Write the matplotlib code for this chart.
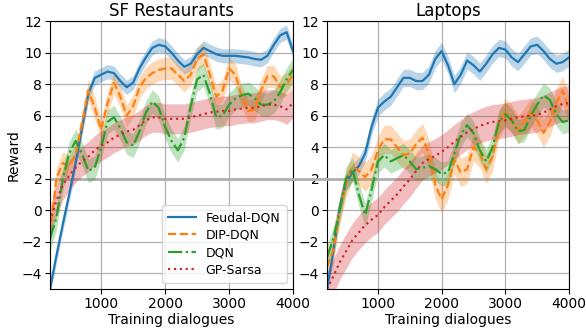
import numpy as np
import matplotlib
matplotlib.use("Agg")
import matplotlib.pyplot as plt
from matplotlib.lines import Line2D

# training dialogues, sampled every 100
steps = np.arange(200, 4001, 100)

# SF Restaurants
sf_feudal = [-5.0, -2.9, -0.9, 1.0, 3.0, 5.2, 7.4, 8.4, 8.6, 8.8, 8.7, 8.2, 7.8, 8.1, 9.0, 9.7,
             10.3, 10.5, 10.4, 10.0, 9.5, 9.1, 9.3, 9.9, 10.3, 10.1, 9.9, 9.8, 9.8, 9.8, 9.75,
             9.7, 9.6, 9.55, 9.8, 10.5, 11.1, 11.3, 10.1]
sf_dip = [-1.5, 2.0, 3.0, 2.8, 3.5, 5.5, 7.6, 6.5, 5.1, 6.8, 8.1, 7.2, 6.0, 6.6, 7.8, 8.4,
          8.7, 8.9, 9.0, 9.0, 8.6, 8.2, 8.6, 9.6, 9.9, 8.6, 7.2, 7.6, 9.0, 8.6, 7.2,
          6.3, 6.4, 7.6, 8.5, 8.5, 7.8, 8.0, 8.6]
sf_dqn = [-1.8, -0.5, 2.0, 3.6, 4.4, 3.6, 2.5, 2.7, 4.0, 5.6, 5.9, 5.2, 4.3, 4.1, 5.0, 6.2,
          6.9, 6.5, 5.3, 4.4, 3.8, 4.6, 6.6, 8.3, 8.6, 7.4, 5.9, 6.0, 6.7, 7.1, 7.3,
          7.4, 7.1, 6.7, 6.7, 6.9, 7.5, 8.3, 8.9]
sf_gp = [-0.7, 0.6, 1.6, 2.2, 2.7, 3.1, 3.4, 3.8, 4.1, 4.3, 4.6, 4.8, 5.0, 5.1, 5.4, 5.7,
         5.9, 5.9, 5.8, 5.8, 5.8, 5.8, 5.9, 6.0, 6.1, 6.2, 6.25, 6.3, 6.3, 6.4, 6.45,
         6.5, 6.5, 6.6, 6.7, 6.7, 6.6, 6.4, 6.8]

# Laptops
lap_feudal = [-5.0, -2.6, 0.2, 1.8, 2.4, 2.8, 3.6, 5.3, 6.5, 6.9, 7.2, 7.8, 8.4, 8.4, 8.2, 8.2,
              8.6, 9.6, 10.1, 9.2, 8.0, 8.6, 9.5, 9.2, 8.8, 9.3, 9.9, 10.3, 10.2, 9.7, 9.4,
              9.9, 10.4, 10.5, 10.1, 9.6, 9.3, 9.4, 9.7]
lap_dip = [-3.6, -2.5, 0.0, 1.7, 2.8, 2.5, 2.1, 2.6, 3.8, 4.5, 4.5, 4.0, 3.5, 3.6, 4.2, 4.6,
           3.6, 1.6, 0.7, 1.6, 3.2, 2.4, 2.6, 4.0, 3.6, 2.6, 3.4, 5.4, 6.2, 5.8, 5.1,
           5.6, 6.2, 5.7, 4.9, 5.6, 6.8, 7.6, 6.4]
lap_dqn = [-3.0, -1.8, 0.0, 2.0, 2.6, 1.0, -0.3, 1.3, 3.1, 3.5, 3.1, 3.3, 3.5, 3.1, 2.6, 2.7,
           2.8, 2.6, 2.3, 2.4, 3.6, 4.8, 5.4, 4.9, 3.8, 3.1, 4.0, 5.6, 6.1, 5.7, 5.0,
           5.1, 6.0, 6.7, 7.3, 7.0, 6.1, 5.6, 5.7]
lap_gp = [-5.0, -4.2, -3.3, -2.6, -1.9, -1.4, -0.95, -0.6, -0.3, 0.2, 0.6, 1.0, 1.5, 1.95, 2.5, 3.0,
          3.25, 3.45, 3.7, 4.0, 4.35, 4.65, 4.95, 5.15, 5.35, 5.5, 5.6, 5.65, 5.7, 5.8, 5.9,
          5.95, 6.0, 6.05, 6.2, 6.4, 6.6, 6.75, 6.8]

# half widths of shaded bands
sf_err = {"feudal": 0.45, "dip": 0.7, "dqn": 0.75, "gp": 0.95}
lap_err = {"feudal": 0.55, "dip": 0.9, "dqn": 0.75, "gp": 1.1}

names = ["Feudal-DQN", "DIP-DQN", "DQN", "GP-Sarsa"]
keys = ["feudal", "dip", "dqn", "gp"]
colors = ["#1f77b4", "#ff7f0e", "#2ca02c", "#d62728"]
styles = ["-", "--", "-.", ":"]

fig = plt.figure(figsize=(5.86, 3.34), dpi=100)
ax1 = fig.add_axes([0.0853, 0.1347, 0.4147, 0.802])
ax2 = fig.add_axes([0.558, 0.1347, 0.413, 0.802])

panels = [
    (ax1, "SF Restaurants", [sf_feudal, sf_dip, sf_dqn, sf_gp], sf_err),
    (ax2, "Laptops", [lap_feudal, lap_dip, lap_dqn, lap_gp], lap_err),
]

for ax, title, series, err in panels:
    for ys, k, name, c, ls in zip(series, keys, names, colors, styles):
        ys = np.array(ys)
        ax.fill_between(steps, ys - err[k], ys + err[k], color=c, alpha=0.3, lw=0)
        ax.plot(steps, ys, color=c, ls=ls, lw=1.6, label=name)
    ax.axhline(2, color="#b0b0b0", lw=2.0, zorder=0.5)
    ax.set_xlim(200, 4000)
    ax.set_ylim(-5, 12)
    ax.set_xticks([1000, 2000, 3000, 4000])
    ax.set_yticks(np.arange(-4, 13, 2))
    ax.grid(True, color="#b0b0b0", lw=0.9)
    ax.set_axisbelow(True)
    ax.set_title(title, fontsize=12, pad=4)
    ax.set_xlabel("Training dialogues", fontsize=10, labelpad=2)
    ax.tick_params(labelsize=10, pad=2)

ax1.set_ylabel("Reward", fontsize=10, labelpad=1)
ax1.legend(loc="lower right", fontsize=9, handlelength=2.2, borderpad=0.5, labelspacing=0.35)

# faint rule at y=2 bridging the two panels
y2 = 1 - (21 + 10 * 15.75) / 334
fig.add_artist(Line2D([0.5, 0.558], [y2, y2], color="#b0b0b0", lw=2.0, transform=fig.transFigure))

fig.savefig("out.png", dpi=100)
